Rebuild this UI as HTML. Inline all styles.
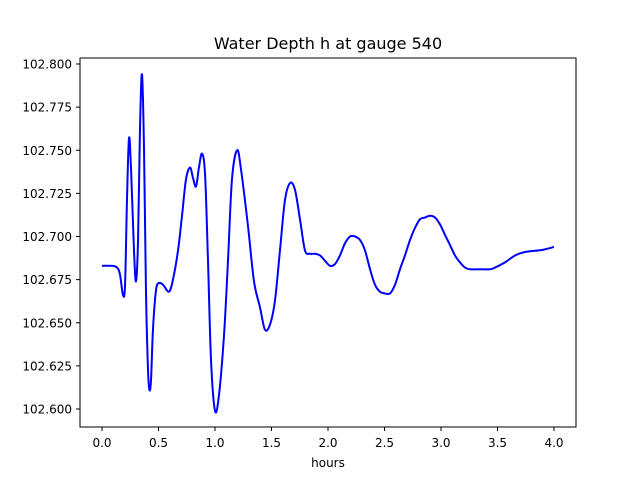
<!DOCTYPE html>
<html><head><meta charset="utf-8"><style>
body{margin:0;background:#fff;font-family:"Liberation Sans","DejaVu Sans",sans-serif}
</style></head><body>
<svg id="chart" width="640" height="480" xmlns="http://www.w3.org/2000/svg">
<rect width="640" height="480" fill="#fff"/>
<text x="328" y="49" text-anchor="middle" font-size="16" font-family="DejaVu Sans, sans-serif">Water Depth h at gauge 540</text>
<g id="xt"></g><g id="yt"></g>
<path id="line" fill="none" stroke="#0000ff" stroke-width="2"/>
<rect x="80" y="58" width="496" height="369" fill="none" stroke="#000" stroke-width="1"/>
<text x="328" y="467" text-anchor="middle" font-size="12" font-family="DejaVu Sans, sans-serif">hours</text>
</svg>
<script>
const hours=[0,0.088,0.133,0.159,0.186,0.204,0.221,0.239,0.257,0.283,0.301,0.319,0.336,0.354,0.372,0.389,0.407,0.420,0.434,0.451,0.478,0.504,0.540,0.593,0.628,0.673,0.708,0.743,0.779,0.805,0.832,0.858,0.885,0.912,0.938,0.965,1.0,1.035,1.080,1.115,1.150,1.195,1.230,1.292,1.345,1.398,1.442,1.487,1.531,1.575,1.619,1.664,1.708,1.752,1.796,1.841,1.885,1.929,1.973,2.018,2.062,2.106,2.150,2.195,2.239,2.283,2.327,2.372,2.416,2.460,2.504,2.549,2.593,2.637,2.681,2.726,2.770,2.814,2.858,2.903,2.947,2.991,3.035,3.080,3.124,3.168,3.212,3.257,3.345,3.434,3.478,3.566,3.655,3.743,3.876,3.947,4.0];
const depth=[102.683,102.683,102.682,102.678,102.666,102.672,102.721,102.757,102.739,102.692,102.674,102.698,102.762,102.794,102.750,102.669,102.623,102.611,102.617,102.646,102.669,102.673,102.672,102.668,102.675,102.692,102.712,102.733,102.740,102.734,102.729,102.740,102.748,102.736,102.686,102.628,102.599,102.608,102.643,102.686,102.733,102.750,102.739,102.706,102.674,102.659,102.646,102.649,102.663,102.692,102.721,102.731,102.727,102.710,102.692,102.690,102.690,102.689,102.686,102.683,102.684,102.689,102.696,102.700,102.700,102.698,102.692,102.681,102.672,102.668,102.667,102.667,102.672,102.681,102.689,102.698,102.705,102.710,102.711,102.712,102.711,102.707,102.701,102.695,102.689,102.685,102.682,102.681,102.681,102.681,102.682,102.685,102.689,102.691,102.692,102.693,102.694];
const xTicks=[0,0.5,1,1.5,2,2.5,3,3.5,4];
const xLabels=["0.0","0.5","1.0","1.5","2.0","2.5","3.0","3.5","4.0"];
const yTicks=[102.6,102.625,102.65,102.675,102.7,102.725,102.75,102.775,102.8];
const yLabels=["102.600","102.625","102.650","102.675","102.700","102.725","102.750","102.775","102.800"];
const X=h=>102+(h-0)*113;
const Y=v=>64+(102.8-v)/0.2*345;
const NS="http://www.w3.org/2000/svg";
const xt=document.getElementById('xt'),yt=document.getElementById('yt');
xTicks.forEach((t,i)=>{
  const l=document.createElementNS(NS,'line');
  l.setAttribute('x1',X(t));l.setAttribute('x2',X(t));l.setAttribute('y1',427);l.setAttribute('y2',431);l.setAttribute('stroke','#000');
  
  
  xt.appendChild(l);
  const s=document.createElementNS(NS,'text');
  s.setAttribute('x',X(t));s.setAttribute('y',447);s.setAttribute('text-anchor','middle');s.setAttribute('font-size','12');s.setAttribute('font-family','DejaVu Sans, sans-serif');
  s.textContent=xLabels[i];
  
  
  xt.appendChild(s);
});
yTicks.forEach((t,i)=>{
  const l=document.createElementNS(NS,'line');
  l.setAttribute('x1',76);l.setAttribute('x2',80);l.setAttribute('y1',Y(t));l.setAttribute('y2',Y(t));l.setAttribute('stroke','#000');
  
  
  yt.appendChild(l);
  const s=document.createElementNS(NS,'text');
  s.setAttribute('x',72);s.setAttribute('y',Y(t)+4.5);s.setAttribute('text-anchor','end');s.setAttribute('font-size','12');s.setAttribute('font-family','DejaVu Sans, sans-serif');
  s.textContent=yLabels[i];
  
  
  yt.appendChild(s);
});
const P=hours.map((h,i)=>[X(h),Y(depth[i])]);
let d='M'+P[0][0]+','+P[0][1];
for(let i=0;i<P.length-1;i++){
  const p0=P[i-1]||P[i],p1=P[i],p2=P[i+1],p3=P[i+2]||P[i+1];
  const k=0.5/3;
  d+=' C'+(p1[0]+(p2[0]-p0[0])*k)+','+(p1[1]+(p2[1]-p0[1])*k)+' '+(p2[0]-(p3[0]-p1[0])*k)+','+(p2[1]-(p3[1]-p1[1])*k)+' '+p2[0]+','+p2[1];
}
document.getElementById('line').setAttribute('d',d);
</script>
</body></html>
